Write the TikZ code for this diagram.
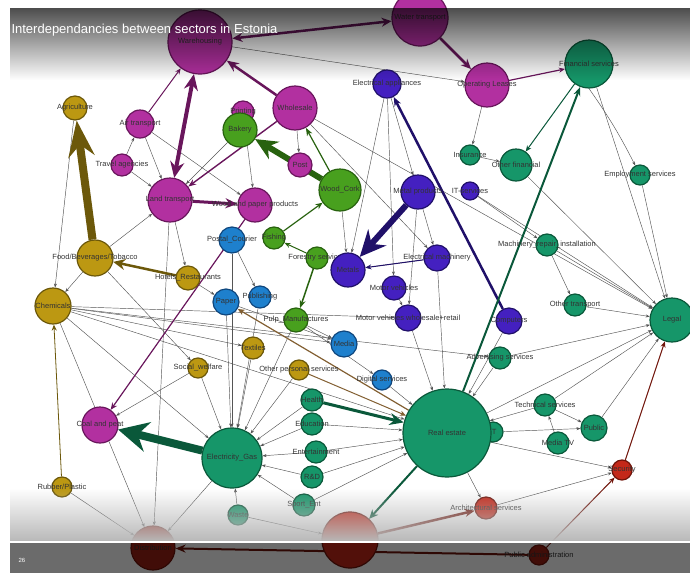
\documentclass[tikz,border=0pt]{standalone}
\usepackage{fontspec}
\setmainfont{Liberation Sans}
\usepackage{xcolor}
\usepackage{tikz}
\usetikzlibrary{arrows.meta, backgrounds, fadings}
\definecolor{pinkfill}{RGB}{178, 48, 160}
\definecolor{pinkdraw}{RGB}{105, 22, 92}
\definecolor{greenfill}{RGB}{72, 160, 30}
\definecolor{greendraw}{RGB}{40, 98, 15}
\definecolor{bluefill}{RGB}{30, 128, 205}
\definecolor{bluedraw}{RGB}{15, 70, 125}
\definecolor{indigofill}{RGB}{68, 32, 192}
\definecolor{indigodraw}{RGB}{32, 16, 105}
\definecolor{tealfill}{RGB}{22, 150, 105}
\definecolor{tealdraw}{RGB}{10, 88, 58}
\definecolor{olivefill}{RGB}{188, 152, 18}
\definecolor{olivedraw}{RGB}{108, 88, 10}
\definecolor{redfill}{RGB}{196, 40, 25}
\definecolor{reddraw}{RGB}{112, 20, 10}
\definecolor{edgegray}{RGB}{85, 85, 85}
\definecolor{browndraw}{RGB}{130, 95, 50}
\tikzfading[name=fadetop, top color=transparent!30, bottom color=transparent!100]
\tikzfading[name=fadebottom, top color=transparent!100, bottom color=transparent!0]

\begin{document}
\begin{tikzpicture}[x=1pt, y=-1pt,
    sector/.style={circle, line width=1.2pt, inner sep=0pt},
    pinknode/.style={sector, draw=pinkdraw, fill=pinkfill},
    greennode/.style={sector, draw=greendraw, fill=greenfill},
    bluenode/.style={sector, draw=bluedraw, fill=bluefill},
    indigonode/.style={sector, draw=indigodraw, fill=indigofill},
    tealnode/.style={sector, draw=tealdraw, fill=tealfill},
    olivenode/.style={sector, draw=olivedraw, fill=olivefill},
    rednode/.style={sector, draw=reddraw, fill=redfill},
    lbl/.style={font=\fontsize{7.5}{9}\selectfont, text=black!80},
    link/.style={draw=edgegray, line width=0.45pt, -{Stealth[length=4pt,width=3pt]}},
    pinkedge/.style={draw=pinkdraw},
    greenedge/.style={draw=greendraw},
    indigoedge/.style={draw=indigodraw},
    tealedge/.style={draw=tealdraw},
    oliveedge/.style={draw=olivedraw},
    rededge/.style={draw=reddraw}]
    \useasboundingbox (0,0) rectangle (690,573);

    % Transport and trade
    \node[pinknode, minimum size=64pt, label={[lbl]center:Warehousing}] (ware) at (200,42) {};
    \node[pinknode, minimum size=56pt, label={[lbl]center:Water transport}] (watr) at (420,18) {};
    \node[pinknode, minimum size=44pt, label={[lbl]center:Operating Leases}] (oplease) at (487,85) {};
    \node[pinknode, minimum size=44pt, label={[lbl]center:Wholesale}] (whole) at (295,108) {};
    \node[pinknode, minimum size=28pt, label={[lbl]center:Air transport}] (airtr) at (140,124) {};
    \node[pinknode, minimum size=22pt, label={[lbl]center:Printing}] (print) at (243,112) {};
    \node[pinknode, minimum size=22pt, label={[lbl]center:Travel agencies}] (travel) at (122,165) {};
    \node[pinknode, minimum size=44pt, label={[lbl]center:Land transport}] (landtr) at (170,200) {};
    \node[pinknode, minimum size=34pt, label={[lbl]center:Wood and paper products}] (woodpap) at (255,205) {};
    \node[pinknode, minimum size=24pt, label={[lbl]center:Post}] (post) at (300,165) {};
    \node[pinknode, minimum size=36pt, label={[lbl]center:Coal and peat}] (coal) at (100,425) {};

    % Wood and food
    \node[greennode, minimum size=34pt, label={[lbl]center:Bakery}] (bakery) at (240,130) {};
    \node[greennode, minimum size=42pt, label={[lbl]center:Wood\_Cork}] (woodcork) at (340,190) {};
    \node[greennode, minimum size=22pt, label={[lbl]center:Fishing}] (fishing) at (274,238) {};
    \node[greennode, minimum size=22pt, label={[lbl]center:Forestry services}] (forest) at (317,258) {};
    \node[greennode, minimum size=24pt, label={[lbl]center:Pulp\_Manufactures}] (pulp) at (296,320) {};

    % Media
    \node[bluenode, minimum size=26pt, label={[lbl]center:Postal\_Courier}] (postal) at (232,240) {};
    \node[bluenode, minimum size=26pt, label={[lbl]center:Paper}] (paper) at (226,302) {};
    \node[bluenode, minimum size=22pt, label={[lbl]center:Publishing}] (publish) at (260,297) {};
    \node[bluenode, minimum size=26pt, label={[lbl]center:Media}] (media) at (344,344) {};
    \node[bluenode, minimum size=20pt, label={[lbl]center:Digital services}] (digital) at (382,380) {};

    % Metals and machines
    \node[indigonode, minimum size=28pt, label={[lbl]center:Electrical appliances}] (elapp) at (387,84) {};
    \node[indigonode, minimum size=34pt, label={[lbl]center:Metal products}] (metprod) at (418,192) {};
    \node[indigonode, minimum size=34pt, label={[lbl]center:Metals}] (metals) at (348,270) {};
    \node[indigonode, minimum size=26pt, label={[lbl]center:Electrical machinery}] (elmach) at (437,258) {};
    \node[indigonode, minimum size=24pt, label={[lbl]center:Motor vehicles}] (motveh) at (394,288) {};
    \node[indigonode, minimum size=26pt, label={[lbl]center:Motor vehicles wholesale+retail}] (motvehws) at (408,318) {};
    \node[indigonode, minimum size=26pt, label={[lbl]center:Computers}] (comp) at (509,321) {};
    \node[indigonode, minimum size=18pt, label={[lbl]center:IT-services}] (itserv) at (470,191) {};

    % Services
    \node[tealnode, minimum size=48pt, label={[lbl]center:Financial services}] (finserv) at (589,64) {};
    \node[tealnode, minimum size=32pt, label={[lbl]center:Other financial}] (othfin) at (516,165) {};
    \node[tealnode, minimum size=20pt, label={[lbl]center:Insurance}] (insur) at (470,155) {};
    \node[tealnode, minimum size=20pt, label={[lbl]center:Employment services}] (employ) at (640,175) {};
    \node[tealnode, minimum size=22pt, label={[lbl]center:Machinery\_repair\_installation}] (machrep) at (547,245) {};
    \node[tealnode, minimum size=22pt, label={[lbl]center:Other transport}] (othtr) at (575,305) {};
    \node[tealnode, minimum size=44pt, label={[lbl]center:Legal}] (legal) at (672,320) {};
    \node[tealnode, minimum size=22pt, label={[lbl]center:Advertising services}] (advert) at (500,358) {};
    \node[tealnode, minimum size=22pt, label={[lbl]center:Technical services}] (techserv) at (545,405) {};
    \node[tealnode, minimum size=20pt, label={[lbl]center:IT}] (it) at (493,432) {};
    \node[tealnode, minimum size=26pt, label={[lbl]center:Public}] (public) at (594,428) {};
    \node[tealnode, minimum size=22pt, label={[lbl]center:Media TV}] (mediatv) at (558,443) {};
    \node[tealnode, minimum size=88pt, label={[lbl]center:Real estate}] (realest) at (447,433) {};
    \node[tealnode, minimum size=60pt, label={[lbl]center:Electricity\_Gas}] (elgas) at (232,458) {};
    \node[tealnode, minimum size=22pt, label={[lbl]center:Health}] (health) at (312,400) {};
    \node[tealnode, minimum size=22pt, label={[lbl]center:Education}] (educ) at (312,424) {};
    \node[tealnode, minimum size=22pt, label={[lbl]center:Entertainment}] (entert) at (316,452) {};
    \node[tealnode, minimum size=22pt, label={[lbl]center:R\&D}] (rnd) at (312,477) {};
    \node[tealnode, minimum size=22pt, label={[lbl]center:Sport\_Ent}] (sport) at (304,505) {};
    \node[tealnode, minimum size=20pt, label={[lbl]center:Waste}] (waste) at (238,515) {};

    % Primary and consumer
    \node[olivenode, minimum size=24pt, label={[lbl]center:Agriculture}] (agri) at (75,108) {};
    \node[olivenode, minimum size=36pt, label={[lbl]center:Food/Beverages/Tobacco}] (foodbev) at (95,258) {};
    \node[olivenode, minimum size=36pt, label={[lbl]center:Chemicals}] (chem) at (53,306) {};
    \node[olivenode, minimum size=24pt, label={[lbl]center:Hotels\_Restaurants}] (hotels) at (188,278) {};
    \node[olivenode, minimum size=20pt, label={[lbl]center:Social\_welfare}] (social) at (198,368) {};
    \node[olivenode, minimum size=22pt, label={[lbl]center:Textiles}] (textil) at (253,348) {};
    \node[olivenode, minimum size=20pt, label={[lbl]center:Other personal services}] (othpers) at (299,370) {};
    \node[olivenode, minimum size=20pt, label={[lbl]center:Rubber/Plastic}] (rubber) at (62,487) {};

    % Construction and public
    \node[rednode, minimum size=44pt, fill=redfill!80!black, label={[lbl]center:Distribution}] (distr) at (153,548) {};
    \node[rednode, minimum size=56pt] (constr) at (350,540) {};
    \node[rednode, minimum size=22pt, label={[lbl]center:Architectural services}] (archi) at (486,508) {};
    \node[rednode, minimum size=20pt, label={[lbl]center:Security}] (secur) at (622,470) {};
    \node[rednode, minimum size=20pt, fill=redfill!80!black, label={[lbl]center:Public administration}] (pubadm) at (539,555) {};

    \begin{scope}[on background layer]
    % thin links
    \foreach \a/\b in {chem/realest, chem/motvehws, chem/advert, chem/media, chem/elgas, chem/textil,
        chem/distr, agri/chem, foodbev/chem, foodbev/landtr, foodbev/social, rubber/distr,
        landtr/distr, landtr/hotels, airtr/landtr, travel/landtr, travel/airtr, airtr/woodpap,
        bakery/landtr, print/woodpap, whole/post, post/woodcork, whole/elmach, ware/oplease,
        whole/legal, hotels/paper, postal/elgas, paper/elgas, publish/elgas, social/elgas,
        textil/elgas, othpers/elgas, pulp/elgas, health/elgas, educ/elgas, entert/elgas,
        rnd/elgas, sport/elgas, waste/elgas, elgas/distr, paper/media, postal/publish,
        pulp/media, pulp/digital, educ/realest, entert/realest, rnd/realest, sport/realest,
        digital/realest, advert/realest, it/realest, techserv/realest, motvehws/realest,
        elmach/realest, comp/realest, realest/legal, realest/secur, realest/archi,
        machrep/legal, othtr/legal, employ/legal, finserv/legal, advert/legal, techserv/legal,
        public/legal, itserv/legal, othfin/legal, machrep/othtr, techserv/public, it/public,
        mediatv/techserv, archi/secur, waste/constr, insur/othfin, oplease/insur,
        elapp/metprod, elapp/metals, elapp/motveh, elmach/metals, metprod/elmach,
        motveh/motvehws, metprod/motvehws, itserv/machrep, woodcork/metals, social/coal}
        \draw[link] (\a) -- (\b);
    \draw[link] (finserv.south) to[bend left=4] (employ);

    % heavy links
    \draw[oliveedge, line width=8pt, -{Stealth[length=36pt,width=26pt]}] (foodbev) -- (agri);
    \draw[oliveedge, line width=2.5pt, -{Stealth[length=12pt,width=11pt]}] (hotels) -- (foodbev);
    \draw[browndraw, line width=1.2pt, -{Stealth[length=7pt,width=6pt]}] (realest) -- (paper);
    \draw[browndraw, line width=1pt, -{Stealth[length=6pt,width=5pt]}] (othpers) -- (realest);
    \draw[greenedge, line width=6pt, -{Stealth[length=22pt,width=20pt]}] (woodcork) -- (bakery);
    \draw[greenedge, line width=1.2pt, -{Stealth[length=8pt,width=6pt]}] (woodcork) -- (whole);
    \draw[greenedge, line width=1.2pt, -{Stealth[length=7pt,width=6pt]}] (fishing) -- (woodcork);
    \draw[greenedge, line width=1pt, -{Stealth[length=6pt,width=5pt]}] (forest) -- (fishing);
    \draw[greenedge, line width=1.5pt, -{Stealth[length=8pt,width=6pt]}] (forest) -- (pulp);
    \draw[indigoedge, line width=6pt, -{Stealth[length=26pt,width=24pt]}] (metprod) -- (metals);
    \draw[indigoedge, line width=2.5pt, -{Stealth[length=9pt,width=7pt]}] (comp) -- (elapp);
    \draw[indigoedge, line width=1pt, -{Stealth[length=6pt,width=5pt]}] (elmach) -- (metals);
    \draw[tealedge, line width=8pt, -{Stealth[length=30pt,width=30pt]}] (elgas) -- (coal);
    \draw[tealedge, line width=3pt, -{Stealth[length=14pt,width=12pt]}] (health) -- (realest);
    \draw[tealedge, line width=2pt, -{Stealth[length=9pt,width=7pt]}] (realest) -- (finserv);
    \draw[tealedge, line width=2pt, -{Stealth[length=9pt,width=8pt]}] (realest) -- (constr);
    \draw[tealedge, line width=1pt, -{Stealth[length=6pt,width=5pt]}] (finserv) -- (othfin);
    \draw[rededge, line width=2.5pt, -{Stealth[length=10pt,width=8pt]}] (constr) -- (archi);
    \draw[rededge, line width=2pt, -{Stealth[length=10pt,width=8pt]}] (pubadm) -- (distr);
    \draw[rededge, line width=1pt, -{Stealth[length=6pt,width=5pt]}] (pubadm) -- (secur);
    \draw[rededge, line width=1pt, -{Stealth[length=6pt,width=5pt]}] (secur) -- (legal);
    \draw[pinkedge, line width=2.5pt, {Stealth[length=10pt,width=9pt]}-{Stealth[length=10pt,width=9pt]}] (ware) -- (watr);
    \draw[pinkedge, line width=2.5pt, -{Stealth[length=10pt,width=9pt]}] (watr) -- (oplease);
    \draw[pinkedge, line width=1.2pt, -{Stealth[length=6pt,width=5pt]}] (oplease) -- (finserv);
    \draw[pinkedge, line width=2.5pt, -{Stealth[length=12pt,width=10pt]}] (whole) -- (ware);
    \draw[pinkedge, line width=4pt, {Stealth[length=16pt,width=14pt]}-{Stealth[length=16pt,width=14pt]}] (ware) -- (landtr);
    \draw[pinkedge, line width=3pt, -{Stealth[length=12pt,width=10pt]}] (landtr) -- (woodpap);
    \draw[pinkedge, line width=1.4pt, -{Stealth[length=8pt,width=6pt]}] (whole) -- (landtr);
    \draw[pinkedge, line width=1.2pt, -{Stealth[length=7pt,width=6pt]}] (woodpap) -- (coal);
    \draw[pinkedge, line width=1pt, -{Stealth[length=6pt,width=5pt]}] (airtr) -- (ware);
    \draw[oliveedge, line width=0.8pt, -{Stealth[length=6pt,width=5pt]}] (rubber) -- (chem);
    \end{scope}

    % overlay of the frame
    \fill[black, path fading=fadetop] (10,8) rectangle (690,80);
    \fill[black!28, path fading=fadebottom] (10,488) rectangle (690,541);
    \fill[black, fill opacity=0.58] (10,543) rectangle (690,573);
    \draw[white, line width=1.2pt] (10,542) -- (690,542);
    \node[anchor=west, text=white, font=\fontsize{13}{15}\selectfont] (title) at (8,30) {Interdependancies between sectors in Estonia};
    \node[text=white, font=\fontsize{6}{7}\selectfont] (pagenum) at (22,560) {26};
\end{tikzpicture}
\end{document}
